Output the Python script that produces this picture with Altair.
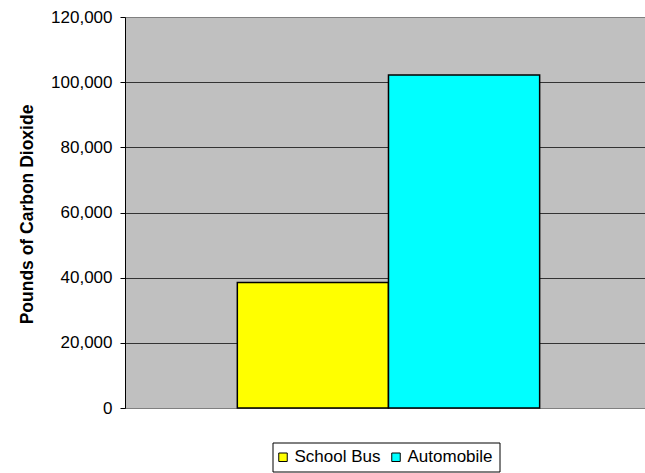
import altair as alt
import pandas as pd

# Annual carbon dioxide output by mode of transport
series = ["School Bus", "Automobile"]
pounds_co2 = [38500, 102200]
bar_colors = ["#FFFF00", "#00FFFF"]
y_ticks = [0, 20000, 40000, 60000, 80000, 100000, 120000]

df = pd.DataFrame({"Mode": series, "Pounds": pounds_co2})

FONT = "Liberation Sans"

bars = alt.Chart(df).mark_bar(stroke="black", strokeWidth=1.5).encode(
    x=alt.X(
        "Mode:N",
        sort=series,
        scale=alt.Scale(paddingInner=0, paddingOuter=0.72, align=0.516),
        axis=None,
    ),
    y=alt.Y(
        "Pounds:Q",
        scale=alt.Scale(domain=[0, 120000], nice=False),
        axis=alt.Axis(
            values=y_ticks,
            format=",.0f",
            title="Pounds of Carbon Dioxide",
            titleFont=FONT,
            titleFontSize=17.5,
            titleFontWeight="bold",
            titleColor="black",
            titleAngle=-90,
            titleBaseline="middle",
            titleX=-98,
            titleY=197,
            labelFont=FONT,
            labelFontSize=17,
            labelColor="black",
            labelPadding=8,
            tickSize=5,
            tickColor="black",
            domainColor="black",
            grid=True,
            gridColor={
                "condition": {
                    "test": "datum.value === 0 || datum.value === 120000",
                    "value": "#808080",
                },
                "value": "#333333",
            },
            gridWidth=1,
        ),
    ),
    color=alt.Color(
        "Mode:N",
        sort=series,
        scale=alt.Scale(domain=series, range=bar_colors),
        legend=alt.Legend(
            title=None,
            orient="none",
            direction="horizontal",
            legendX=147.5,
            legendY=425.5,
            strokeColor="black",
            fillColor="white",
            padding=6,
            symbolType="square",
            symbolSize=72,
            symbolOffset=-4,
            symbolStrokeColor="black",
            symbolStrokeWidth=1,
            symbolOpacity=1,
            labelFont=FONT,
            labelFontSize=17,
            labelColor="black",
            labelOffset=3,
            columnPadding=9,
        ),
    ),
)

chart = bars.properties(
    width=520,
    height=391,
    autosize=alt.AutoSizeParams(type="none"),
    padding={"left": 125, "top": 17, "right": 0, "bottom": 65},
    background="white",
).configure_view(
    fill="#C0C0C0",
    stroke="#808080",
    strokeWidth=1,
)

chart.save("out.html", embed_options={"renderer": "svg", "actions": False})
